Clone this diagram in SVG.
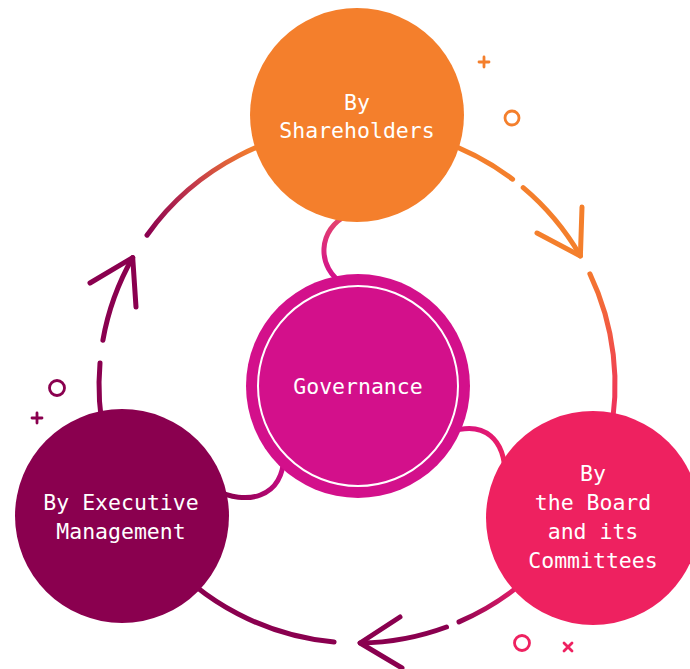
<svg xmlns="http://www.w3.org/2000/svg" width="690" height="669" viewBox="0 0 690 669">
<style>
.ln{fill:none;stroke-width:5;stroke-linecap:round;stroke-linejoin:round}
.dec{fill:none;stroke-width:2.8;stroke-linecap:round}
.lbl{font-family:"DejaVu Sans Mono","Liberation Mono",monospace;font-size:21.5px;fill:#ffffff;text-anchor:middle}
</style>
<defs>
<linearGradient id="gTL" gradientUnits="userSpaceOnUse" x1="147" y1="235" x2="255" y2="150"><stop offset="0" stop-color="#8A004F"/><stop offset="0.5" stop-color="#C43A4A"/><stop offset="1" stop-color="#F47F2C"/></linearGradient>
<linearGradient id="gR" gradientUnits="userSpaceOnUse" x1="590" y1="274" x2="610" y2="420"><stop offset="0" stop-color="#F4772F"/><stop offset="1" stop-color="#EE2E5E"/></linearGradient>
<linearGradient id="gB" gradientUnits="userSpaceOnUse" x1="515" y1="590" x2="455" y2="625"><stop offset="0" stop-color="#E01E68"/><stop offset="1" stop-color="#8A004F"/></linearGradient>
<linearGradient id="gOG" gradientUnits="userSpaceOnUse" x1="345" y1="220" x2="335" y2="278"><stop offset="0" stop-color="#E4446E"/><stop offset="1" stop-color="#D3108B"/></linearGradient>
<linearGradient id="gGB" gradientUnits="userSpaceOnUse" x1="460" y1="430" x2="500" y2="465"><stop offset="0" stop-color="#D8127F"/><stop offset="1" stop-color="#EE2160"/></linearGradient>
<linearGradient id="gGE" gradientUnits="userSpaceOnUse" x1="280" y1="465" x2="225" y2="492"><stop offset="0" stop-color="#C80C84"/><stop offset="1" stop-color="#8A004F"/></linearGradient>
</defs>
<g id="connectors">
<path class="ln" stroke="url(#gTL)" d="M147,235.2 A258,258 0 0 1 357,127"/>
<path class="ln" stroke="#F47F2C" d="M357,127 A258,258 0 0 1 512.6,179.2"/>
<path class="ln" stroke="#F47F2C" d="M523.2,187.7 A258,258 0 0 1 580.4,256"/>
<path class="ln" stroke="#F47F2C" d="M582,207 L580.4,256 L537,233"/>
<path class="ln" stroke="url(#gR)" d="M589.9,273.9 A258,258 0 0 1 609.4,438.6"/>
<path class="ln" stroke="url(#gB)" d="M554.6,550.8 A258,258 0 0 1 459,621.9"/>
<path class="ln" stroke="#8A004F" d="M446.5,627 A258,258 0 0 1 360.1,643"/>
<path class="ln" stroke="#8A004F" d="M400,617 L360.1,643 L402,668"/>
<path class="ln" stroke="#8A004F" d="M334.1,642 A258,258 0 0 1 159.4,550.8"/>
<path class="ln" stroke="#8A004F" d="M104.6,438.6 A258,258 0 0 1 100,363"/>
<path class="ln" stroke="#8A004F" d="M102.9,340.2 A258,258 0 0 1 132.7,257.6"/>
<path class="ln" stroke="#8A004F" d="M90,283 L132.7,257.6 L136,307"/>
<path class="ln" stroke="url(#gOG)" d="M348,215 C318,228 315,268 345,285"/>
<path class="ln" stroke="url(#gGB)" d="M450,432 C485,420 505,440 505,475"/>
<path class="ln" stroke="url(#gGE)" d="M284,455 C283,500 245,505 215,490"/>
</g>
<g id="node-shareholders">
<circle cx="357" cy="115" r="107" fill="#F47F2C"/>
<text class="lbl" x="357" y="110">By</text>
<text class="lbl" x="357" y="138">Shareholders</text>
</g>
<g id="node-governance">
<circle cx="358" cy="386" r="112" fill="#D3108B"/>
<circle cx="358" cy="386" r="100" fill="none" stroke="#ffffff" stroke-width="2"/>
<text class="lbl" x="358" y="394">Governance</text>
</g>
<g id="node-executive">
<circle cx="122" cy="516" r="107" fill="#8A004F"/>
<text class="lbl" x="121" y="510">By Executive</text>
<text class="lbl" x="121" y="539">Management</text>
</g>
<g id="node-board">
<circle cx="593" cy="518" r="107" fill="#EE2160"/>
<text class="lbl" x="593" y="481">By</text>
<text class="lbl" x="593" y="510">the Board</text>
<text class="lbl" x="593" y="539">and its</text>
<text class="lbl" x="593" y="568">Committees</text>
</g>
<g id="decorations">
<path class="dec" stroke="#F47F2C" d="M479,62 H489 M484,57 V67"/>
<circle class="dec" stroke="#F47F2C" cx="512" cy="118" r="7"/>
<circle class="dec" stroke="#8A004F" cx="57" cy="388" r="7.5"/>
<path class="dec" stroke="#8A004F" d="M32,418 H42 M37,413 V423"/>
<circle class="dec" stroke="#EE2160" cx="522" cy="643" r="7.5"/>
<path class="dec" stroke="#EE2160" d="M564,643 L572,651 M572,643 L564,651"/>
</g>
</svg>
